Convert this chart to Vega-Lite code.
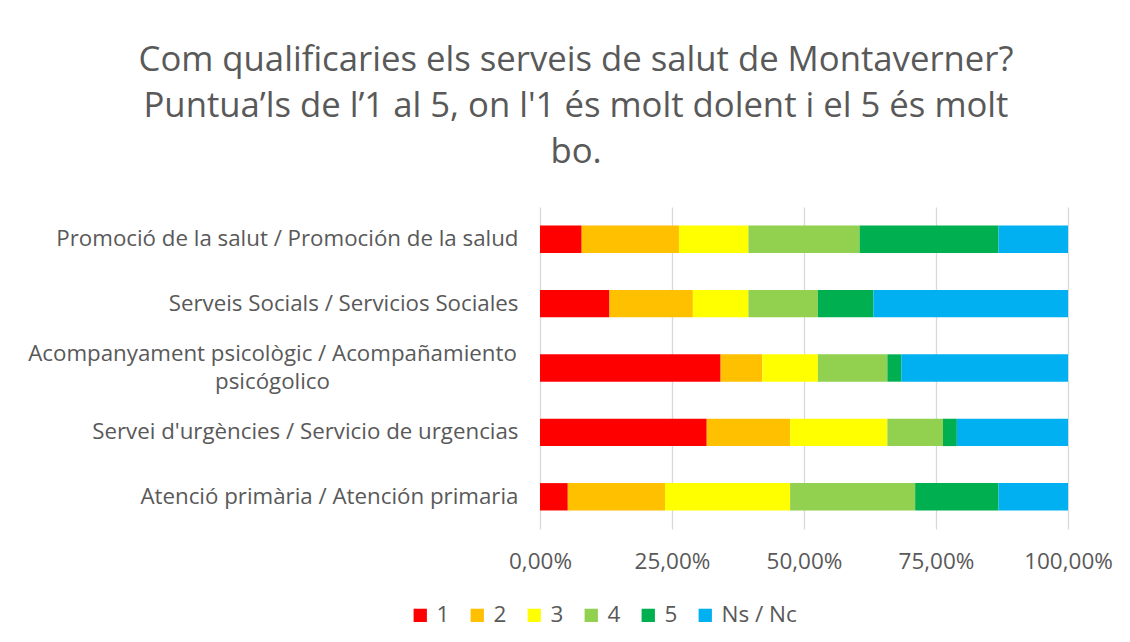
{
  "$schema": "https://vega.github.io/schema/vega-lite/v6.json",
  "autosize": {"type": "none"},
  "width": 528,
  "height": 322,
  "padding": {"left": 540, "top": 207, "right": 62, "bottom": 113},
  "background": "white",
  "title": {
    "text": ["Com qualificaries els serveis de salut de Montaverner?", "Puntua’ls de l’1 al 5, on l'1 és molt dolent i el 5 és molt", "bo."],
    "font": "Open Sans",
    "fontSize": 34.7,
    "fontWeight": "normal",
    "color": "#595959",
    "lineHeight": 46,
    "anchor": "middle",
    "dx": -228,
    "offset": 36
  },
  "data": {
    "values": [
      {"servei": "Promoció de la salut / Promoción de la salud", "valoracio": "1", "n": 3},
      {"servei": "Promoció de la salut / Promoción de la salud", "valoracio": "2", "n": 7},
      {"servei": "Promoció de la salut / Promoción de la salud", "valoracio": "3", "n": 5},
      {"servei": "Promoció de la salut / Promoción de la salud", "valoracio": "4", "n": 8},
      {"servei": "Promoció de la salut / Promoción de la salud", "valoracio": "5", "n": 10},
      {"servei": "Promoció de la salut / Promoción de la salud", "valoracio": "Ns / Nc", "n": 5},
      {"servei": "Serveis Socials / Servicios Sociales", "valoracio": "1", "n": 5},
      {"servei": "Serveis Socials / Servicios Sociales", "valoracio": "2", "n": 6},
      {"servei": "Serveis Socials / Servicios Sociales", "valoracio": "3", "n": 4},
      {"servei": "Serveis Socials / Servicios Sociales", "valoracio": "4", "n": 5},
      {"servei": "Serveis Socials / Servicios Sociales", "valoracio": "5", "n": 4},
      {"servei": "Serveis Socials / Servicios Sociales", "valoracio": "Ns / Nc", "n": 14},
      {"servei": "Acompanyament psicològic / Acompañamiento psicógolico", "valoracio": "1", "n": 13},
      {"servei": "Acompanyament psicològic / Acompañamiento psicógolico", "valoracio": "2", "n": 3},
      {"servei": "Acompanyament psicològic / Acompañamiento psicógolico", "valoracio": "3", "n": 4},
      {"servei": "Acompanyament psicològic / Acompañamiento psicógolico", "valoracio": "4", "n": 5},
      {"servei": "Acompanyament psicològic / Acompañamiento psicógolico", "valoracio": "5", "n": 1},
      {"servei": "Acompanyament psicològic / Acompañamiento psicógolico", "valoracio": "Ns / Nc", "n": 12},
      {"servei": "Servei d'urgències / Servicio de urgencias", "valoracio": "1", "n": 12},
      {"servei": "Servei d'urgències / Servicio de urgencias", "valoracio": "2", "n": 6},
      {"servei": "Servei d'urgències / Servicio de urgencias", "valoracio": "3", "n": 7},
      {"servei": "Servei d'urgències / Servicio de urgencias", "valoracio": "4", "n": 4},
      {"servei": "Servei d'urgències / Servicio de urgencias", "valoracio": "5", "n": 1},
      {"servei": "Servei d'urgències / Servicio de urgencias", "valoracio": "Ns / Nc", "n": 8},
      {"servei": "Atenció primària / Atención primaria", "valoracio": "1", "n": 2},
      {"servei": "Atenció primària / Atención primaria", "valoracio": "2", "n": 7},
      {"servei": "Atenció primària / Atención primaria", "valoracio": "3", "n": 9},
      {"servei": "Atenció primària / Atención primaria", "valoracio": "4", "n": 9},
      {"servei": "Atenció primària / Atención primaria", "valoracio": "5", "n": 6},
      {"servei": "Atenció primària / Atención primaria", "valoracio": "Ns / Nc", "n": 5}
    ]
  },
  "mark": {"type": "bar"},
  "encoding": {
    "y": {
      "field": "servei",
      "type": "nominal",
      "sort": ["Promoció de la salut / Promoción de la salud", "Serveis Socials / Servicios Sociales", "Acompanyament psicològic / Acompañamiento psicógolico", "Servei d'urgències / Servicio de urgencias", "Atenció primària / Atención primaria"],
      "scale": {"paddingInner": 0.575, "paddingOuter": 0.2875},
      "axis": {
        "title": null,
        "domain": false,
        "ticks": false,
        "labelFont": "Open Sans",
        "labelFontSize": 22.3,
        "labelColor": "#595959",
        "labelPadding": {"condition": {"test": "datum.value == 'Acompanyament psicològic / Acompañamiento psicógolico'", "value": 268}, "value": 22},
        "labelAlign": {"condition": {"test": "datum.value == 'Acompanyament psicològic / Acompañamiento psicógolico'", "value": "center"}, "value": "right"},
        "labelLimit": 600,
        "labelLineHeight": 28,
        "labelOffset": {"condition": {"test": "datum.value == 'Acompanyament psicològic / Acompañamiento psicógolico'", "value": -14}, "value": 0},
        "labelExpr": "datum.value == 'Acompanyament psicològic / Acompañamiento psicógolico' ? ['Acompanyament psicològic / Acompañamiento', 'psicógolico'] : datum.value"
      }
    },
    "x": {
      "field": "n",
      "type": "quantitative",
      "stack": "normalize",
      "scale": {"domain": [0, 1]},
      "axis": {
        "title": null,
        "values": [0, 0.25, 0.5, 0.75, 1],
        "labelExpr": "replace(format(datum.value, '.2%'), '.', ',')",
        "labelFlush": false,
        "labelOverlap": false,
        "domain": false,
        "ticks": false,
        "grid": true,
        "gridColor": "#d9d9d9",
        "gridWidth": 1.3,
        "labelFont": "Open Sans",
        "labelFontSize": 22.5,
        "labelColor": "#595959",
        "labelPadding": 21
      }
    },
    "color": {
      "field": "valoracio",
      "type": "nominal",
      "scale": {
        "domain": ["1", "2", "3", "4", "5", "Ns / Nc"],
        "range": ["#FF0000", "#FFC000", "#FFFF00", "#92D050", "#00B050", "#00B0F0"]
      },
      "legend": {
        "title": null,
        "orient": "none",
        "direction": "horizontal",
        "legendX": -131,
        "legendY": 397,
        "symbolType": "square",
        "symbolSize": 177,
        "symbolStrokeWidth": 0,
        "labelFont": "Open Sans",
        "labelFontSize": 22.5,
        "labelColor": "#595959",
        "labelOffset": 5,
        "columnPadding": 16
      }
    }
  },
  "config": {
    "view": {"stroke": null}
  }
}
